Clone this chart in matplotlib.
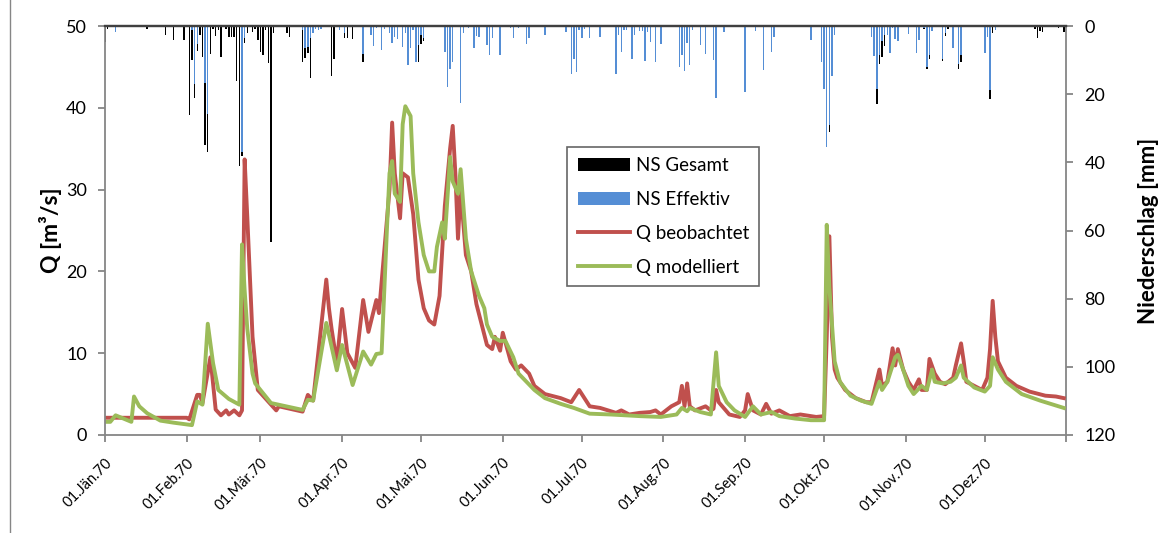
import numpy as np
import matplotlib
matplotlib.use("Agg")
import matplotlib.pyplot as plt
from matplotlib.patches import Patch
from matplotlib.lines import Line2D

# ---- data (day of year 1970, 0 = 01.01.1970) ----
q_obs_day = [0, 31, 32, 35, 36, 37, 40, 42, 44, 46, 47, 49, 51, 52, 53, 54, 56, 58, 63, 65, 66,
             75, 77, 79, 84, 85, 86, 88, 90, 92, 95, 98, 100, 103, 104, 108, 109, 110, 112, 113,
             115, 117, 119, 121, 123, 125, 127, 129, 131, 132, 133, 134, 135, 137, 139, 141, 143,
             145, 147, 148, 150, 151, 154, 156, 158, 161, 163, 167, 173, 177, 180, 184, 188, 194,
             196, 199, 203, 207, 209, 211, 215, 218, 219, 220, 221, 222, 224, 228, 230, 231, 232,
             233, 237, 241, 243, 244, 246, 249, 251, 253, 256, 260, 264, 270, 273, 274, 275, 276,
             277, 278, 281, 285, 289, 291, 294, 295, 297, 299, 300, 301, 303, 305, 307, 309, 310,
             312, 313, 315, 317, 319, 322, 323, 325, 326, 327, 330, 333, 335, 336, 337, 338, 339,
             342, 346, 351, 357, 361, 364]
q_obs = [2.1, 2.1, 1.9, 4.9, 4.9, 3.9, 9.5, 3.1, 2.4, 3.0, 2.5, 3.0, 2.4, 3.0, 33.7, 26.7, 12.0,
         5.5, 3.7, 3.0, 3.5, 2.85, 4.9, 4.2, 19.0, 15.5, 13.0, 8.8, 15.4, 10.0, 8.2, 16.5, 12.6,
         16.5, 14.9, 30.0, 38.2, 32.0, 26.5, 32.0, 31.5, 27.0, 19.0, 15.5, 14.0, 13.5, 17.0, 28.0,
         35.0, 37.8, 32.0, 24.0, 30.0, 22.0, 20.0, 16.0, 13.5, 11.0, 10.5, 12.0, 10.3, 12.5, 9.0,
         8.0, 8.5, 7.5, 6.0, 5.0, 4.5, 4.0, 5.5, 3.5, 3.3, 2.7, 3.0, 2.5, 2.7, 2.8, 3.0, 2.5, 3.5,
         4.0, 6.0, 3.5, 6.3, 3.5, 3.0, 3.5, 3.0, 3.2, 5.5, 4.0, 2.5, 2.2, 3.0, 5.0, 3.0, 2.5, 3.8,
         2.6, 3.0, 2.3, 2.5, 2.2, 2.3, 12.0, 24.3, 12.0, 8.0, 7.0, 5.5, 4.5, 4.0, 4.0, 8.0, 6.0,
         6.5, 10.6, 8.5, 10.5, 8.0, 6.5, 5.5, 6.8, 5.5, 5.5, 9.3, 7.5, 6.5, 6.2, 7.0, 8.5, 11.2,
         9.0, 6.5, 6.0, 5.5, 7.0, 10.5, 16.4, 12.0, 9.0, 7.0, 6.0, 5.3, 4.8, 4.7, 4.5]

q_mod_day = [0, 2, 4, 10, 11, 13, 16, 21, 26, 33, 35, 37, 39, 41, 43, 47, 51, 52, 53, 54, 56, 57,
             63, 75, 77, 79, 84, 88, 90, 94, 98, 101, 103, 105, 107, 108, 109, 110, 112, 113, 114,
             116, 117, 119, 121, 123, 125, 126, 128, 129, 131, 132, 134, 135, 137, 139, 142, 144,
             145, 147, 150, 152, 155, 157, 160, 163, 167, 173, 178, 184, 192, 203, 211, 217, 219,
             221, 222, 226, 230, 232, 233, 236, 239, 243, 246, 249, 253, 256, 262, 268, 273, 274,
             275, 277, 279, 283, 287, 291, 294, 295, 297, 300, 301, 303, 305, 307, 310, 312, 314,
             315, 318, 321, 323, 325, 326, 330, 334, 336, 337, 339, 342, 348, 355, 364]
q_mod = [1.6, 1.6, 2.4, 1.6, 4.7, 3.5, 2.65, 1.75, 1.5, 1.2, 4.1, 3.7, 13.6, 8.8, 5.5, 4.4, 3.7,
         23.3, 17.7, 13.0, 7.5, 6.3, 3.9, 3.06, 4.3, 4.2, 13.7, 7.9, 11.0, 6.1, 10.2, 8.6, 9.9,
         10.0, 25.0, 32.0, 33.5, 29.5, 28.5, 38.0, 40.2, 39.0, 32.0, 26.0, 22.0, 20.0, 20.0, 23.0,
         26.0, 24.0, 34.0, 31.0, 29.5, 32.5, 24.0, 20.0, 17.0, 15.5, 13.5, 12.0, 11.5, 11.5, 9.5,
         7.5, 6.5, 5.5, 4.5, 3.8, 3.3, 2.6, 2.5, 2.3, 2.2, 2.5, 3.3, 2.9, 3.3, 2.8, 2.5, 10.1,
         6.0, 4.0, 3.0, 2.2, 3.5, 2.5, 2.8, 2.3, 2.0, 1.8, 1.8, 25.7, 18.0, 9.0, 6.5, 4.8, 4.2,
         3.8, 6.5, 5.5, 6.5, 9.5, 9.8, 8.0, 6.0, 5.0, 6.0, 5.5, 8.0, 6.5, 6.3, 6.5, 7.0, 8.5, 7.0,
         5.8, 5.3, 6.0, 9.5, 8.0, 6.5, 5.0, 4.2, 3.3]

ns_day = [0, 1, 4, 16, 23, 26, 30, 32, 33, 34, 35, 36, 37, 38, 39, 40, 41, 42, 43, 44, 46, 47,
          48, 49, 50, 51, 52, 53, 54, 56, 57, 58, 59, 60, 61, 62, 63, 64, 69, 70, 75, 76, 77, 78,
          79, 80, 81, 82, 86, 87, 89, 91, 92, 93, 94, 98, 101, 102, 103, 105, 106, 108, 109, 110,
          111, 113, 114, 115, 116, 117, 118, 119, 120, 121, 124, 129, 130, 131, 132, 134, 135,
          136, 138, 139, 140, 141, 142, 145, 146, 147, 150, 154, 155, 157, 160, 161, 167, 175,
          177, 178, 179, 180, 181, 182, 184, 188, 194, 195, 196, 197, 198, 200, 201, 203, 204,
          205, 206, 207, 209, 211, 212, 218, 219, 220, 221, 222, 223, 225, 226, 228, 231, 232,
          235, 243, 245, 247, 250, 253, 254, 259, 268, 272, 273, 274, 275, 276, 277, 291, 292,
          293, 294, 295, 296, 297, 298, 299, 300, 301, 305, 308, 309, 311, 312, 313, 314, 316,
          318, 319, 320, 322, 324, 325, 334, 335, 336, 337, 338, 347, 353, 354, 355, 356, 361,
          362, 364]
ns_total = [4.7, 0.8, 1.8, 0.8, 2.5, 4.2, 4.0, 26.0, 9.8, 21.1, 7.4, 2.5, 9.1, 34.9, 37.0, 8.3,
            0.9, 2.8, 1.2, 9.0, 0.7, 3.1, 3.1, 3.1, 16.1, 41.0, 38.0, 5.1, 2.1, 1.7, 0.9, 4.1, 7.7,
            8.5, 1.2, 10.7, 63.3, 1.9, 1.9, 3.1, 10.5, 9.3, 8.0, 15.2, 1.9, 0.9, 1.2, 0.9, 14.6,
            9.7, 1.2, 3.4, 3.6, 0.4, 3.7, 10.4, 2.7, 5.7, 0.6, 7.1, 0.8, 2.0, 4.9, 3.2, 3.7, 6.2,
            2.0, 11.3, 6.5, 1.2, 10.4, 10.6, 5.3, 4.3, 0.2, 7.6, 17.9, 12.5, 10.4, 0.4, 22.6, 1.9,
            0.6, 0.4, 6.4, 2.9, 3.2, 5.5, 8.6, 3.5, 8.6, 0.6, 3.6, 0.6, 5.2, 3.6, 2.5, 1.8, 14.0,
            9.6, 13.5, 1.0, 3.5, 0.8, 3.6, 3.2, 14.0, 2.5, 7.6, 1.0, 1.0, 9.6, 2.7, 1.3, 1.3, 10.1,
            1.6, 4.7, 10.4, 5.2, 0.4, 12.0, 8.4, 13.2, 4.9, 11.3, 1.0, 0.4, 5.5, 8.1, 9.8, 21.1,
            1.6, 19.4, 0.3, 1.3, 13.0, 7.6, 3.2, 0.3, 4.0, 10.6, 18.4, 35.4, 31.0, 14.5, 2.5, 3.2,
            8.9, 22.8, 11.0, 9.1, 5.7, 2.7, 7.8, 0.6, 3.7, 4.5, 2.2, 7.8, 4.2, 0.8, 12.5, 9.6, 1.3,
            0.4, 10.1, 2.9, 0.8, 6.4, 12.5, 10.6, 7.8, 3.2, 21.3, 1.9, 1.0, 0.4, 0.8, 3.6, 1.3,
            1.6, 0.4, 0.5, 1.6]
ns_eff = [0.0, 0.0, 1.8, 0.0, 0.0, 0.0, 0.0, 0.0, 1.0, 16.9, 5.2, 0.0, 0.0, 16.8, 25.8, 0.0, 0.0,
          0.0, 0.0, 0.0, 0.0, 0.0, 0.0, 0.0, 0.0, 0.0, 37.0, 3.4, 0.0, 0.0, 0.0, 0.0, 0.0, 0.0,
          0.0, 0.0, 0.0, 0.0, 0.0, 0.0, 1.0, 6.5, 6.0, 3.6, 1.9, 0.9, 1.2, 0.9, 0.0, 0.0, 1.2,
          2.0, 0.0, 0.0, 0.0, 8.3, 2.6, 5.7, 0.6, 7.1, 0.8, 2.0, 4.9, 3.2, 3.7, 6.2, 2.0, 11.3,
          6.5, 1.2, 10.4, 5.5, 2.6, 3.6, 0.2, 7.6, 17.9, 12.5, 10.4, 0.4, 22.6, 1.9, 0.6, 0.4,
          6.4, 2.9, 3.2, 5.5, 8.6, 3.5, 8.6, 0.6, 3.6, 0.6, 5.2, 3.6, 2.5, 1.8, 14.0, 9.6, 13.5,
          1.0, 3.5, 0.8, 3.6, 3.2, 14.0, 2.5, 7.6, 1.0, 1.0, 9.6, 2.7, 1.3, 1.3, 10.1, 1.6, 4.7,
          10.4, 5.2, 0.4, 12.0, 8.4, 13.2, 4.9, 11.3, 1.0, 0.4, 5.5, 8.1, 9.8, 21.1, 1.6, 19.4,
          0.3, 1.3, 13.0, 7.6, 3.2, 0.3, 4.0, 10.6, 18.4, 35.4, 29.0, 14.5, 2.5, 3.2, 8.9, 18.4,
          8.6, 4.5, 2.7, 2.7, 7.8, 0.6, 3.7, 4.5, 2.2, 7.8, 4.2, 0.5, 12.0, 8.6, 1.3, 0.4, 9.6,
          1.9, 0.0, 6.4, 11.0, 8.6, 7.8, 3.2, 18.8, 0.0, 1.0, 0.0, 0.0, 0.0, 0.0, 0.0, 0.0, 0.0,
          0.0]

month_labels = ["01.Jän.70", "01.Feb.70", "01.Mär.70", "01.Apr.70", "01.Mai.70", "01.Jun.70",
                "01.Jul.70", "01.Aug.70", "01.Sep.70", "01.Okt.70", "01.Nov.70", "01.Dez.70"]

# ---- helpers ----
base = np.datetime64("1970-01-01")
def to_dates(days):
    return base + np.array(days, dtype="timedelta64[D]")

C_OBS = "#C0504D"
C_MOD = "#9BBB59"
C_EFF = "#558ED5"
C_AX = "#868686"
LW = 2.8

plt.rcParams["font.family"] = ["Lato", "DejaVu Sans"]

fig = plt.figure(figsize=(11.71, 5.33), dpi=100)
ax = fig.add_axes([0.0897, 0.184, 0.8210, 0.767])
ax2 = ax.twinx()

# precipitation bars hanging from the top (secondary axis, inverted)
ns_d = to_dates(ns_day)
ax2.bar(ns_d, ns_total, width=0.55, color="black", linewidth=0, align="center")
ax2.bar(ns_d, ns_eff, width=0.55, color=C_EFF, linewidth=0, align="center")
ax2.set_ylim(120, 0)
ax2.set_yticks(np.arange(0, 121, 20))

# runoff lines on the primary axis, drawn above the bars
ax.set_zorder(ax2.get_zorder() + 1)
ax.patch.set_visible(False)
ax.plot(to_dates(q_obs_day), q_obs, color=C_OBS, lw=LW, solid_joinstyle="round")
ax.plot(to_dates(q_mod_day), q_mod, color=C_MOD, lw=LW, solid_joinstyle="round")
ax.set_ylim(0, 50)
ax.set_yticks(np.arange(0, 51, 10))

x0 = np.datetime64("1970-01-01")
x1 = np.datetime64("1971-01-01")
ax.set_xlim(x0, x1)
month_ticks = np.arange("1970-01", "1971-01", dtype="datetime64[M]").astype("datetime64[D]")
ax.set_xticks(list(month_ticks) + [x1])
ax.set_xticklabels(month_labels + [""], rotation=45, ha="right", rotation_mode="anchor",
                   fontsize=10.5)

for a in (ax, ax2):
    for s in ("left", "right", "bottom"):
        a.spines[s].set_color(C_AX)
        a.spines[s].set_linewidth(1.3)
    a.spines["top"].set_color("#404040")
    a.spines["top"].set_linewidth(1.6)
ax.spines["right"].set_visible(False)
ax2.spines["left"].set_visible(False)
ax2.spines["bottom"].set_visible(False)

ax.tick_params(axis="y", direction="out", length=5, color=C_AX, width=1.3, labelsize=13, pad=8)
ax.tick_params(axis="x", direction="out", length=5, color=C_AX, width=1.3, pad=10)
ax2.tick_params(axis="y", direction="out", length=5, color=C_AX, width=1.3, labelsize=13, pad=8)

ax.set_ylabel("Q [m³/s]", fontsize=16.5, fontweight="bold", labelpad=3)
ax2.set_ylabel("Niederschlag [mm]", fontsize=16, fontweight="bold", labelpad=16)

handles = [Patch(facecolor="black", edgecolor="none"),
           Patch(facecolor=C_EFF, edgecolor="none"),
           Line2D([], [], color=C_OBS, lw=LW),
           Line2D([], [], color=C_MOD, lw=LW)]
labels = ["NS Gesamt", "NS Effektiv", "Q beobachtet", "Q modelliert"]
leg = ax.legend(handles, labels, loc="upper left", bbox_to_anchor=(0.481, 0.705),
                fontsize=13.5, frameon=True, fancybox=False, shadow=False,
                handlelength=2.8, handleheight=0.65, labelspacing=0.9, borderpad=0.55,
                handletextpad=0.3, borderaxespad=0)
leg.get_frame().set_edgecolor("#404040")
leg.get_frame().set_linewidth(1.2)

# outer chart frame
fig.add_artist(Line2D([10 / 1171, 10 / 1171], [0, 1], transform=fig.transFigure,
                      color=C_AX, lw=1.0))

fig.savefig("out.png", dpi=100)
